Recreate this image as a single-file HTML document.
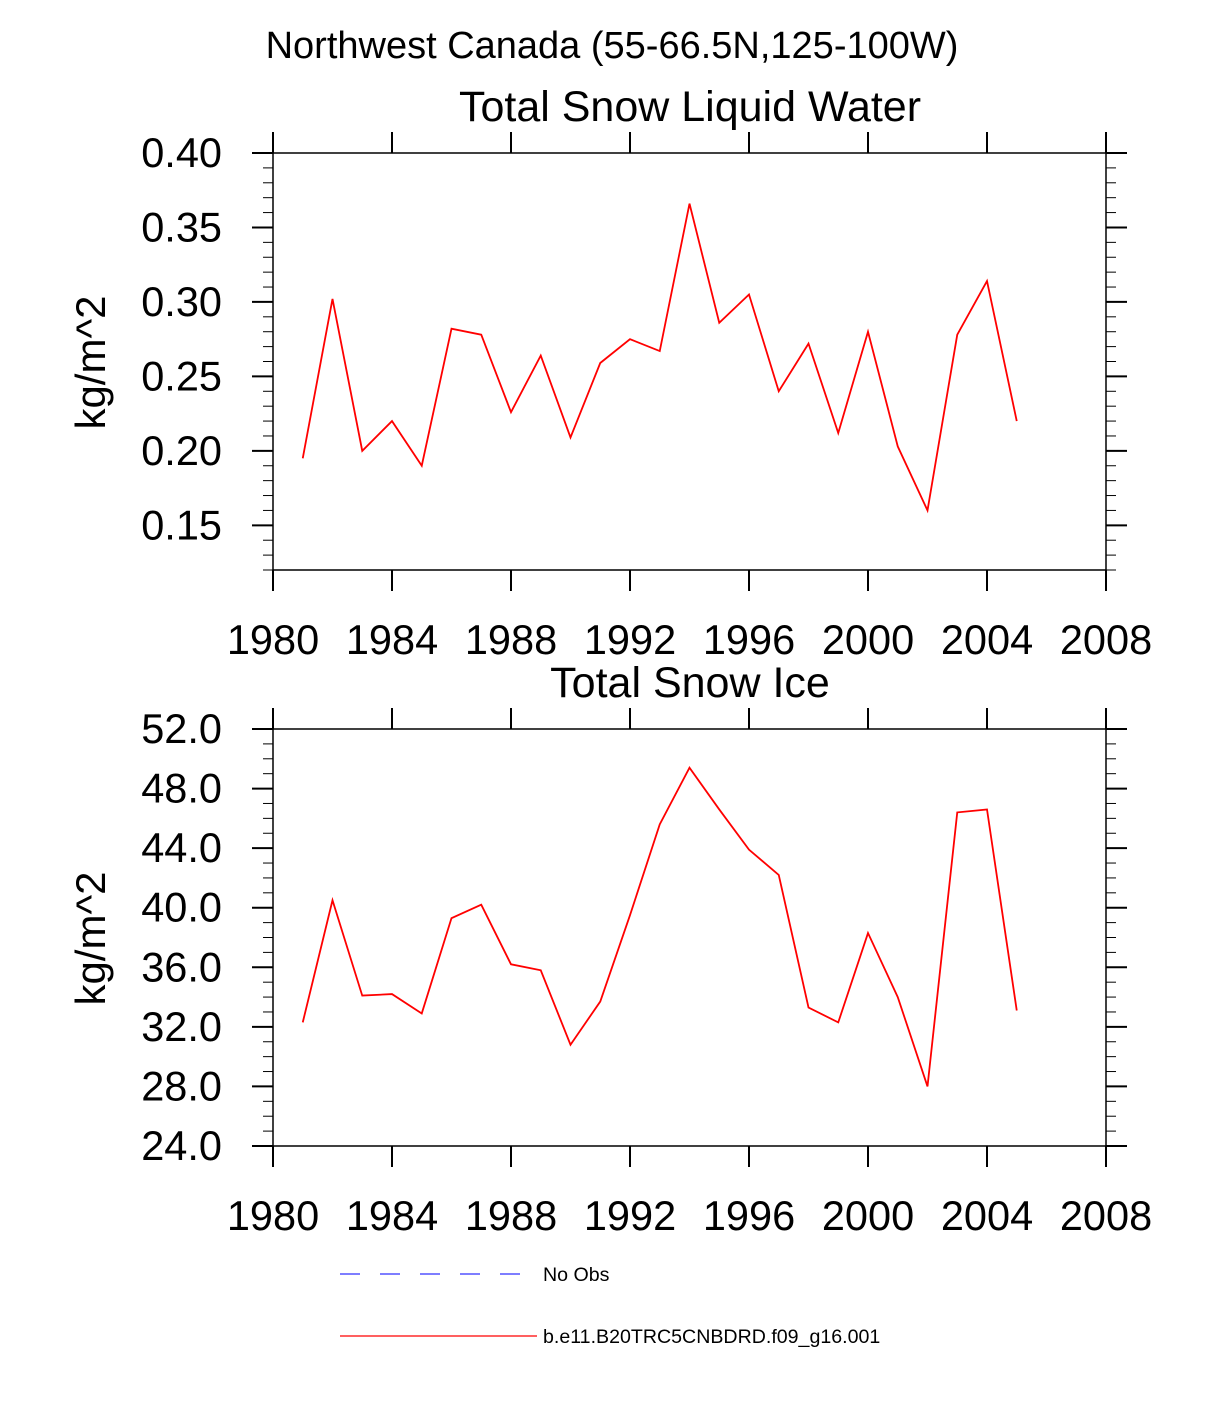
<!DOCTYPE html>
<html><head><meta charset="utf-8"><style>
body{margin:0;background:#fff}
svg{display:block;font-family:"Liberation Sans",sans-serif}
</style></head><body>
<svg id="c" width="1224" height="1404" viewBox="0 0 1224 1404">
<text x="612" y="58" font-size="38" text-anchor="middle">Northwest Canada (55-66.5N,125-100W)</text>
<g id="p1"></g>
<g id="p2"></g>
<g>
<line x1="340" y1="1274" x2="530" y2="1274" stroke="#3030ff" stroke-width="1.2" stroke-dasharray="20,20"/>
<text x="543" y="1281" font-size="19.6">No Obs</text>
<line x1="340" y1="1336" x2="537" y2="1336" stroke="#f00" stroke-width="1.2"/>
<text x="543" y="1343" font-size="19.6">b.e11.B20TRC5CNBDRD.f09_g16.001</text>
</g>
</svg>
<script>
const years=[1981,1982,1983,1984,1985,1986,1987,1988,1989,1990,1991,1992,1993,1994,1995,1996,1997,1998,1999,2000,2001,2002,2003,2004,2005];
const liquidWater=[0.195,0.302,0.200,0.220,0.190,0.282,0.278,0.226,0.264,0.209,0.259,0.275,0.267,0.366,0.286,0.305,0.240,0.272,0.212,0.280,0.203,0.160,0.278,0.314,0.220];
const snowIce=[32.3,40.5,34.1,34.2,32.9,39.3,40.2,36.2,35.8,30.8,33.7,39.5,45.6,49.4,46.6,43.9,42.2,33.3,32.3,38.3,34.0,28.0,46.4,46.6,33.1];
const xTicks=[1980,1984,1988,1992,1996,2000,2004,2008];
const yTicks1=[0.15,0.20,0.25,0.30,0.35,0.40];
const yTicks2=[24,28,32,36,40,44,48,52];
const NS="http://www.w3.org/2000/svg";
function mk(parent,tag,attrs,txt){const e=document.createElementNS(NS,tag);for(const k in attrs)e.setAttribute(k,attrs[k]);if(txt!==undefined)e.textContent=txt;parent.appendChild(e);return e;}
function panel(g,o){
  const L=273,R=1106,T=o.top,B=o.bottom;
  const sx=v=>L+(v-1980)/(2008-1980)*(R-L);
  const sy=v=>B-(v-o.ymin)/(o.ymax-o.ymin)*(B-T);
  const t=mk(g,'text',{x:690,y:T-32,'font-size':43,'text-anchor':'middle'},o.title);
  
  
  const f=mk(g,'rect',{x:L,y:T,width:R-L,height:B-T,fill:'none',stroke:'#000','stroke-width':1.5});
  
  
  for(let v=o.ymin;v<=o.ymax+1e-9;v+=o.minor){
    const y=sy(v);
    mk(g,'line',{x1:L-10,x2:L,y1:y,y2:y,stroke:'#000','stroke-width':1});
    mk(g,'line',{x1:R,x2:R+10,y1:y,y2:y,stroke:'#000','stroke-width':1});
  }
  o.yt.forEach(v=>{
    const y=sy(v);
    mk(g,'line',{x1:L-21,x2:L,y1:y,y2:y,stroke:'#000','stroke-width':2});
    mk(g,'line',{x1:R,x2:R+21,y1:y,y2:y,stroke:'#000','stroke-width':2});
    const tl=mk(g,'text',{x:222,y:y+14,'font-size':41.5,'text-anchor':'end'},v.toFixed(o.dec));
    
    
  });
  xTicks.forEach(v=>{
    const x=sx(v);
    mk(g,'line',{x1:x,x2:x,y1:T-21,y2:T,stroke:'#000','stroke-width':2});
    mk(g,'line',{x1:x,x2:x,y1:B,y2:B+21,stroke:'#000','stroke-width':2});
    const tl=mk(g,'text',{x:x,y:B+84,'font-size':41.5,'text-anchor':'middle'},String(v));
    
    
  });
  const cy=(T+B)/2+1;
  const yt=mk(g,'text',{x:105,y:cy,'font-size':42,'text-anchor':'middle',transform:`rotate(-90 105 ${cy})`},'kg/m^2');
  
  
  const pts=years.map((yr,i)=>sx(yr)+','+sy(o.data[i])).join(' ');
  const pl=mk(g,'polyline',{points:pts,fill:'none',stroke:'#f00','stroke-width':1.8});
  
  
}
panel(document.getElementById('p1'),{top:153,bottom:570,ymin:0.12,ymax:0.40,minor:0.01,yt:yTicks1,dec:2,data:liquidWater,title:'Total Snow Liquid Water'});
panel(document.getElementById('p2'),{top:729,bottom:1146,ymin:24,ymax:52,minor:1,yt:yTicks2,dec:1,data:snowIce,title:'Total Snow Ice'});
</script>
</body></html>
